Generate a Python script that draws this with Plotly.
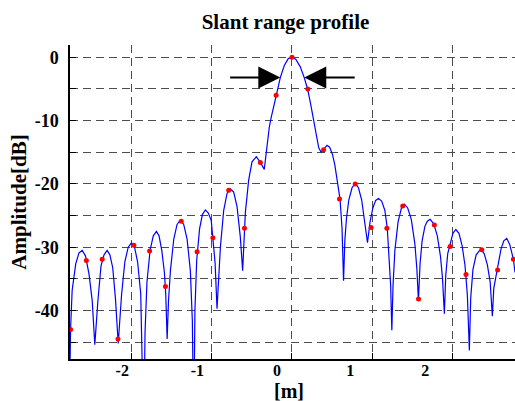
import plotly.graph_objects as go

# ---- data (x in grid units of the range axis, values in dB) ----
curve_x = [
    -2.785, -2.765, -2.745, -2.700, -2.660, -2.619, -2.578, -2.535, -2.495, -2.462,
    -2.424, -2.385, -2.347, -2.308, -2.274, -2.239, -2.205, -2.170,
    -2.128, -2.087, -2.045, -2.004, -1.966, -1.928, -1.889, -1.866, -1.851,
    -1.835, -1.811, -1.772, -1.732, -1.693, -1.660, -1.626, -1.593, -1.576, -1.559,
    -1.542, -1.518, -1.476, -1.435, -1.393, -1.352, -1.310, -1.269, -1.244, -1.227,
    -1.212, -1.190, -1.154, -1.118, -1.081, -1.045, -1.008, -0.985, -0.960, -0.936,
    -0.894, -0.853, -0.811, -0.770, -0.728, -0.686, -0.645, -0.616,
    -0.582, -0.541, -0.499, -0.445, -0.395, -0.346,
    -0.314, -0.283, -0.258, -0.227, -0.196, -0.146, -0.096, -0.046, 0.000,
    0.047, 0.104, 0.153, 0.195, 0.235, 0.269, 0.303, 0.334, 0.365,
    0.395, 0.437, 0.470, 0.505, 0.535, 0.561, 0.600, 0.625, 0.644,
    0.660, 0.680, 0.710, 0.750, 0.790, 0.830, 0.870, 0.905, 0.943,
    0.975, 1.010, 1.045, 1.080, 1.120, 1.160, 1.190, 1.215, 1.232, 1.247,
    1.262, 1.285, 1.325, 1.365, 1.405, 1.445, 1.490, 1.535, 1.560, 1.579,
    1.600, 1.625, 1.660, 1.690, 1.725, 1.770, 1.815, 1.855, 1.880, 1.903,
    1.920, 1.945, 1.975, 2.010, 2.046, 2.085, 2.125, 2.160, 2.190, 2.215,
    2.232, 2.260, 2.300, 2.357, 2.400, 2.440, 2.475, 2.502,
    2.520, 2.565, 2.610, 2.645, 2.682, 2.720, 2.745, 2.765, 2.785,
]
curve_db = [
    -60.0, -43.0, -36.8, -32.6, -30.9, -30.5, -31.4, -34.2, -38.4, -45.4,
    -38.5, -33.0, -31.2, -30.5, -31.2, -33.2, -38.0, -45.2,
    -37.5, -32.3, -30.0, -29.3, -30.0, -32.3, -37.3, -45.3, -60.0,
    -43.5, -35.5, -30.5, -28.2, -27.5, -28.2, -30.5, -34.0, -37.5, -44.5,
    -38.5, -33.7, -28.7, -26.4, -25.7, -26.4, -28.7, -33.7, -41.7, -60.0,
    -40.0, -32.1, -27.1, -24.8, -24.1, -24.6, -25.8, -28.5, -32.5, -39.7,
    -30.0, -24.2, -21.5, -20.8, -21.3, -23.6, -28.4, -33.7,
    -24.5, -19.4, -16.5, -15.7, -16.6, -17.7,
    -14.0, -11.0, -9.4, -7.4, -6.0, -3.2, -1.3, -0.2, 0.0,
    -0.3, -1.5, -3.2, -5.0, -7.5, -10.0, -12.5, -14.3, -15.0,
    -14.5, -13.9, -14.2, -15.3, -17.0, -18.9, -22.4, -27.0, -35.3,
    -29.0, -25.5, -22.5, -20.6, -19.9, -20.6, -22.5, -25.5, -29.3,
    -26.0, -23.8, -22.6, -22.3, -22.7, -24.2, -27.0, -31.5, -36.0, -43.1,
    -36.0, -30.5, -26.0, -23.9, -23.2, -23.8, -25.6, -29.5, -33.5, -38.4,
    -32.5, -29.0, -26.7, -25.9, -25.6, -26.3, -28.2, -31.5, -35.0, -40.5,
    -34.5, -31.0, -29.5, -27.8, -27.2, -27.8, -29.8, -32.8, -37.5, -46.3,
    -38.0, -33.5, -31.2, -30.3, -31.0, -32.8, -35.5, -40.9,
    -36.5, -33.3, -30.3, -29.0, -28.6, -29.6, -30.8, -31.9, -34.0,
]

sample_x = [
    -2.765, -2.568, -2.370, -2.173, -1.975, -1.778, -1.580, -1.383, -1.185, -0.988,
    -0.790, -0.593, -0.395, -0.198, 0.000, 0.198, 0.395, 0.593, 0.790, 0.988,
    1.185, 1.383, 1.580, 1.778, 1.975, 2.173, 2.370, 2.568, 2.765,
]
sample_db = [
    -43.0, -32.1, -31.9, -44.5, -29.7, -30.6, -36.2, -25.9, -30.7, -28.5,
    -21.0, -27.0, -16.6, -6.0, 0.0, -5.0, -14.6, -22.4, -20.0, -26.9,
    -27.0, -23.5, -38.2, -26.5, -29.9, -34.3, -30.4, -33.6, -31.9,
]

grid_x = [-2, -1, 0, 1, 2]
x_label_pos = [-2.12, -1.181, -0.187, 0.727, 1.663]
x_label_text = ["-2", "-1", "0", "1", "2"]

y_ticks = [-45, -40, -35, -30, -25, -20, -15, -10, -5, 0]
y_tick_text = ["", "-40", "", "-30", "", "-20", "", "-10", "", "0"]

res_level = -3.2
left_arrow = (-0.791, -0.146)
right_arrow = (0.802, 0.153)

x_range = [-2.772, 2.785]
y_range = [-47.66, 1.95]

FONT = "Liberation Serif, Times New Roman, serif"
GRID = "#4d4d4d"


def bold(s):
    return "<b>%s</b>" % s if s else ""


fig = go.Figure()
fig.add_trace(go.Scatter(
    x=curve_x, y=curve_db, mode="lines",
    line=dict(color="#0000ff", width=1.2),
    xaxis="x", yaxis="y", showlegend=False, hoverinfo="skip",
))
fig.add_trace(go.Scatter(
    x=sample_x, y=sample_db, mode="markers",
    marker=dict(color="#ff0000", size=5),
    xaxis="x2", yaxis="y", showlegend=False,
))

for tail, tip in (left_arrow, right_arrow):
    fig.add_annotation(
        x=tip, y=res_level, ax=tail, ay=res_level,
        xref="x", yref="y", axref="x", ayref="y",
        text="", showarrow=True, arrowhead=2, arrowsize=2.2,
        arrowwidth=2, arrowcolor="black",
    )

# x-axis title placed below the tick labels
fig.add_annotation(
    text=bold("[m]"), x=0.5 - 4 / 445, xref="paper", xanchor="center",
    y=-32 / 314, yref="paper", yanchor="middle", showarrow=False,
    font=dict(family=FONT, size=20, color="black"),
)

fig.update_layout(
    width=515, height=401,
    margin=dict(l=70, r=0, t=45, b=42),
    paper_bgcolor="white", plot_bgcolor="white",
    font=dict(family=FONT, color="black", size=18),
    title=dict(
        text=bold("Slant range profile"), x=285.5 / 515, xref="container",
        xanchor="center", y=1 - 22 / 401, yanchor="middle",
        font=dict(family=FONT, size=21, color="black"),
    ),
    xaxis=dict(
        range=x_range, tickvals=grid_x, ticktext=[""] * len(grid_x),
        ticks="inside", ticklen=6, tickwidth=1.3, tickcolor="black",
        showgrid=True, gridcolor=GRID, gridwidth=1.2, griddash="8px,5px",
        showline=True, linecolor="black", linewidth=1.5, zeroline=False,
        mirror=False, fixedrange=True,
    ),
    xaxis2=dict(
        overlaying="x", matches="x", anchor="y", side="bottom",
        tickvals=x_label_pos, ticktext=[bold(t) for t in x_label_text], ticks="",
        showgrid=False, showline=False, zeroline=False, mirror=False,
        tickfont=dict(family=FONT, size=16, color="black"),
    ),
    yaxis=dict(
        range=y_range, tickvals=y_ticks, ticktext=[bold(t) for t in y_tick_text],
        ticks="inside", ticklen=6, tickwidth=1.3, tickcolor="black",
        showgrid=True, gridcolor=GRID, gridwidth=1.2, griddash="8px,5px",
        showline=True, linecolor="black", linewidth=1.5, zeroline=False,
        mirror=False,
        tickfont=dict(family=FONT, size=18, color="black"),
        ticklabelstandoff=6,
        title=dict(text=bold("Amplitude[dB]"), font=dict(family=FONT, size=21),
                   standoff=2),
    ),
)

fig.write_html("out.html")
